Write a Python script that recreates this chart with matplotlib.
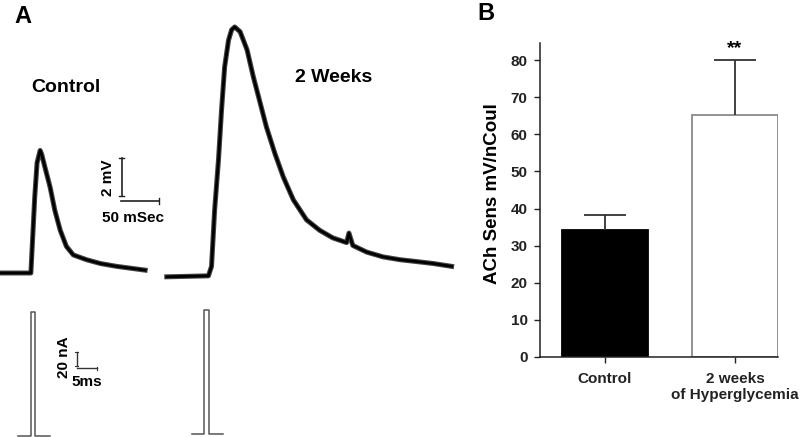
import numpy as np
import matplotlib
matplotlib.use("Agg")
import matplotlib.pyplot as plt
import matplotlib.patheffects as pe

plt.rcParams['font.family'] = ['Liberation Sans', 'DejaVu Sans']
plt.rcParams['font.weight'] = 'bold'
plt.rcParams['axes.labelweight'] = 'bold'

#--------------------------------
# Panel A: EJP traces (time in ms, membrane potential in mV)
ctrl_t  = [0, 40, 45, 48, 52, 54, 58, 65, 71, 78, 86, 95, 112, 130, 151, 188]
ctrl_mv = [0, 0, 4.0, 5.8, 6.45, 6.25, 5.6, 4.5, 3.3, 2.25, 1.4, 0.95, 0.7, 0.5, 0.35, 0.15]

wk2_t  = [0, 54, 58, 62, 67, 71, 75, 80, 84, 88, 95, 104, 112, 121, 129, 140,
          151, 164, 181, 198, 215, 233, 236, 241, 259, 280, 302, 324, 345, 369]
wk2_mv = [-0.2, -0.15, 0.35, 3.3, 5.95, 8.6, 10.85, 12.25, 12.8, 12.95, 12.7, 11.75,
          10.35, 8.95, 7.7, 6.3, 5.05, 3.85, 2.8, 2.25, 1.85, 1.6, 2.1, 1.45, 1.1,
          0.85, 0.7, 0.6, 0.5, 0.35]

# stimulus current pulses (time in ms, current in nA)
pulse1_t  = [4.4, 7.5, 7.5, 8.5, 8.5, 12.1]
pulse1_na = [0, 0, 173, 173, 0, 0]
pulse2_t  = [46.5, 49.5, 49.5, 50.65, 50.65, 54.2]
pulse2_na = [2.8, 2.8, 176, 176, 2.8, 2.8]

#--------------------------------
# Panel B: ACh sensitivity
groups   = ["Control", "2 weeks\nof Hyperglycemia"]
ach_mean = [34.2, 65.2]
ach_sem  = [4.1, 14.8]

W, H = 801, 437
fig = plt.figure(figsize=(W / 100, H / 100), dpi=100)

def px(x, y):
    return x / W, 1 - y / H

# voltage axes over panel A (0.772 px per ms, 19 px per mV)
ax_v = fig.add_axes([0, 0, 470 / W, 1])
ax_v.set_xlim(0, 470 / 0.772)
ax_v.set_ylim(-(H - 273) / 19, 273 / 19)
ax_v.axis('off')

fuzz = [pe.Stroke(linewidth=3.6, foreground='#444444'), pe.Normal()]
wk2_offset = 216
ax_v.plot(ctrl_t, ctrl_mv, color='black', lw=2.0, solid_joinstyle='round', path_effects=fuzz)
ax_v.plot(np.array(wk2_t) + wk2_offset, wk2_mv, color='black', lw=2.0,
          solid_joinstyle='round', path_effects=fuzz)

# scale bars 2 mV / 50 ms
sb_t, sb_v = 157.6, 4.05
ax_v.plot([sb_t, sb_t], [sb_v, sb_v + 2], color='#222222', lw=1.2)
ax_v.plot([sb_t - 3, sb_t + 3], [sb_v + 2, sb_v + 2], color='#222222', lw=1.0)
ax_v.plot([sb_t - 3, sb_t + 3], [sb_v, sb_v], color='#222222', lw=1.0)
ax_v.plot([sb_t - 1.3, sb_t + 48.7], [sb_v - 0.26, sb_v - 0.26], color='#222222', lw=1.2)
ax_v.plot([sb_t + 48.7] * 2, [sb_v - 0.42, sb_v - 0.1], color='#222222', lw=1.0)

# current axes over panel A (4.12 px per ms, 0.715 px per nA)
ax_i = fig.add_axes([0, 0, 470 / W, 1])
ax_i.set_xlim(0, 470 / 4.12)
ax_i.set_ylim(-1 / 0.715, 436 / 0.715)
ax_i.axis('off')
ax_i.patch.set_alpha(0)
ax_i.plot(pulse1_t, pulse1_na, color='#555555', lw=1.1, clip_on=False)
ax_i.plot(pulse2_t, pulse2_na, color='#555555', lw=1.1, clip_on=False)

# scale bars 20 nA / 5 ms
si_t, si_na = 18.6, 97.9
ax_i.plot([si_t, si_t], [si_na, si_na + 20], color='#333333', lw=1.0)
ax_i.plot([si_t - 0.4, si_t + 0.4], [si_na + 20] * 2, color='#333333', lw=0.8)
ax_i.plot([si_t - 0.4, si_t + 0.4], [si_na] * 2, color='#333333', lw=0.8)
ax_i.plot([si_t, si_t + 5], [si_na - 3.2] * 2, color='#333333', lw=1.0)
ax_i.plot([si_t + 5] * 2, [si_na - 5, si_na - 1.4], color='#333333', lw=0.8)

fig.text(*px(22.5, 16.5), "A", fontsize=17, ha='center', va='center')
fig.text(*px(66, 88), "Control", fontsize=14, ha='center', va='center')
fig.text(*px(334, 78), "2 Weeks", fontsize=14, ha='center', va='center')
fig.text(*px(108, 178), "2 mV", fontsize=11, rotation=90, ha='center', va='center')
fig.text(*px(133.5, 218), "50 mSec", fontsize=11, ha='center', va='center')
fig.text(*px(63.5, 357.5), "20 nA", fontsize=11, rotation=90, ha='center', va='center')
fig.text(*px(86.7, 382.5), "5ms", fontsize=11, ha='center', va='center')

###############################################################################
# Panel B bar chart
###############################################################################
axb = fig.add_axes([540 / W, (H - 357) / H, 238 / W, 314 / H])
x = np.arange(len(groups))
axb.bar(x, ach_mean, width=0.66, color=['black', 'white'],
        edgecolor=['black', '#8a8a8a'], linewidth=1.3, zorder=2)
tops = np.array(ach_mean) + np.array(ach_sem)
axb.vlines(x, ach_mean, tops, color='#333333', lw=1.3, zorder=3)
axb.hlines(tops, x - 0.16, x + 0.16, color='#333333', lw=1.3, zorder=3)
axb.text(x[1], tops[1] + 3.0, "**", fontsize=14, ha='center', va='center')

axb.set_xlim(-0.5, 1.33)
axb.set_ylim(0, 84.6)
axb.set_yticks(range(0, 81, 10))
axb.set_xticks(x)
axb.set_xticklabels(groups, fontsize=11)
axb.tick_params(axis='both', direction='out', length=4, width=1, colors='#222222', labelsize=11)
axb.tick_params(axis='y', pad=5)
axb.tick_params(axis='x', pad=7)
axb.spines['top'].set_visible(False)
axb.spines['right'].set_visible(False)
for s in ['left', 'bottom']:
    axb.spines[s].set_linewidth(1.1)
    axb.spines[s].set_color('#222222')
axb.set_ylabel("ACh Sens mV/nCoul", fontsize=13.5, fontweight='bold')
axb.yaxis.set_label_coords(-0.165, 0.52)
fig.text(*px(486, 13), "B", fontsize=17, ha='center', va='center')

fig.savefig("out.png", dpi=100)
